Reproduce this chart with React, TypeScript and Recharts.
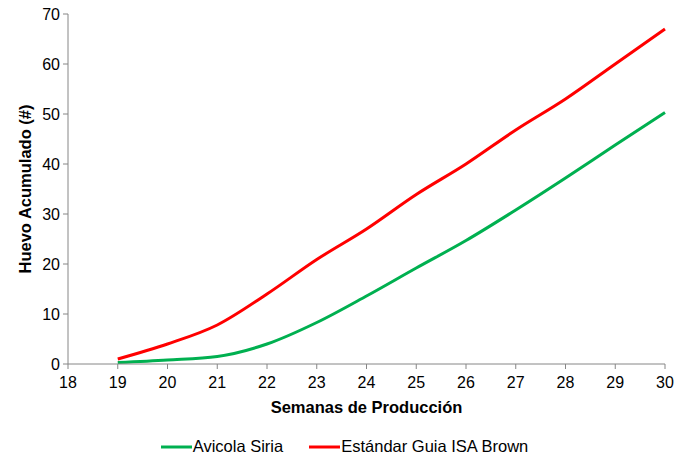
import { LineChart, Line, XAxis, YAxis, Legend } from 'recharts';

const weeks = [19, 20, 21, 22, 23, 24, 25, 26, 27, 28, 29, 30];
const avicolaSiria = [0.3, 0.8, 1.5, 4.0, 8.3, 13.6, 19.2, 24.7, 30.8, 37.2, 43.8, 50.3];
const isaBrown = [1.0, 4.0, 7.8, 14.0, 20.9, 27.0, 33.9, 40.0, 46.8, 53.0, 60.0, 67.0];
const xTicks = [18, 19, 20, 21, 22, 23, 24, 25, 26, 27, 28, 29, 30];
const yTicks = [0, 10, 20, 30, 40, 50, 60, 70];

const seriesNames = ['Avicola Siria', 'Estándar Guia ISA Brown'];
const seriesColors = ['#00B050', '#FF0000'];

const rows = weeks.map((w, i) => ({ week: w, siria: avicolaSiria[i], isa: isaBrown[i] }));

const FONT = '"Liberation Sans", Arial, sans-serif';
const AXIS = '#868686';

function LegendRow() {
  return (
    <div style={{ display: 'flex', justifyContent: 'center', gap: 26, fontFamily: FONT, fontSize: 16.5, color: '#000' }}>
      {seriesNames.map((n, i) => (
        <div key={n} style={{ display: 'flex', alignItems: 'center' }}>
          <svg width={31} height={10} style={{ marginRight: 1 }}>
            <line x1={0} y1={5} x2={31} y2={5} stroke={seriesColors[i]} strokeWidth={3} />
          </svg>
          <span>{n}</span>
        </div>
      ))}
    </div>
  );
}

export default function App() {
  return (
    <div style={{ position: 'fixed', left: 0, top: 0, width: 689, height: 457, background: '#fff' }}>
      <LineChart width={689} height={457} data={rows} margin={{ top: 14, right: 24, left: 18, bottom: 0 }}>
        <XAxis
          dataKey="week"
          type="number"
          domain={[18, 30]}
          ticks={xTicks}
          interval={0}
          height={73}
          stroke={AXIS}
          tickSize={5}
          tickMargin={8}
          tick={{ fill: '#000', fontSize: 16, fontFamily: FONT }}
          label={({ viewBox }: any) => (
            <text x={viewBox.x + viewBox.width / 2} y={viewBox.y + 49} textAnchor="middle"
              fontFamily={FONT} fontSize={16.5} fontWeight="bold" fill="#000">
              Semanas de Producción
            </text>
          )}
        />
        <YAxis
          domain={[0, 70]}
          ticks={yTicks}
          width={50}
          stroke={AXIS}
          tickSize={5}
          tickMargin={3}
          tick={{ fill: '#000', fontSize: 16, fontFamily: FONT }}
          label={({ viewBox }: any) => (
            <text x={25} y={viewBox.y + viewBox.height / 2} textAnchor="middle" dominantBaseline="central"
              transform={`rotate(-90, 25, ${viewBox.y + viewBox.height / 2})`}
              fontFamily={FONT} fontSize={16.5} fontWeight="bold" fill="#000">
              Huevo Acumulado (#)
            </text>
          )}
        />
        <Legend
          content={() => <LegendRow />}
          wrapperStyle={{ position: 'absolute', top: 437, left: 0, width: 689, height: 20 }}
        />
        <Line type="monotone" dataKey="siria" name={seriesNames[0]} stroke={seriesColors[0]} strokeWidth={3} dot={false} isAnimationActive={false} />
        <Line type="monotone" dataKey="isa" name={seriesNames[1]} stroke={seriesColors[1]} strokeWidth={3} dot={false} isAnimationActive={false} />
      </LineChart>
    </div>
  );
}
